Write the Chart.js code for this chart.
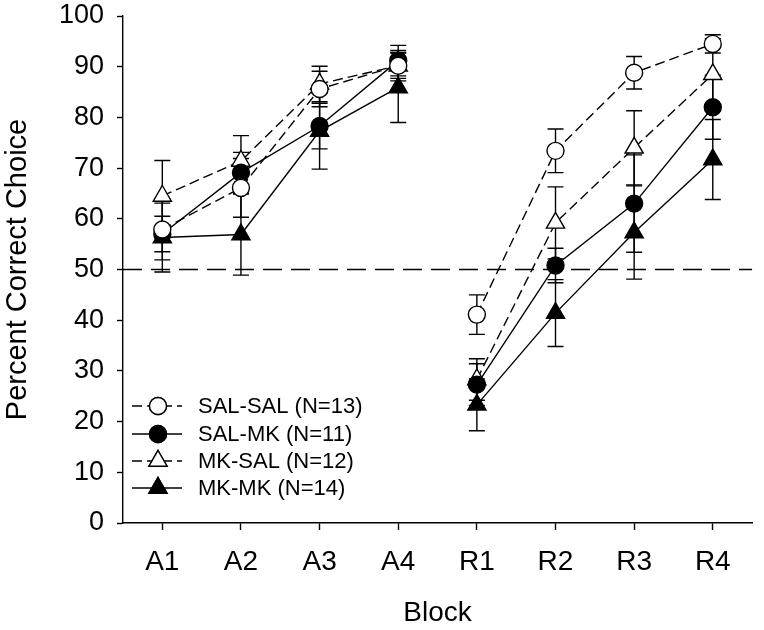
<!DOCTYPE html>
<html>
<head>
<meta charset="utf-8">
<script src="https://cdn.jsdelivr.net/npm/chart.js@4.4.1/dist/chart.umd.min.js"></script>
<style>
  html, body { margin: 0; padding: 0; background: #fff; }
  #wrap { width: 764px; height: 630px; }
</style>
</head>
<body>
<div id="wrap"><canvas id="c" width="764" height="630"></canvas></div>
<script>
const blocks = ['A1', 'A2', 'A3', 'A4', 'R1', 'R2', 'R3', 'R4'];
const yTicks = [0, 10, 20, 30, 40, 50, 60, 70, 80, 90, 100];
const chanceLevel = 50;

const salSal    = [57.9, 66.1, 85.6, 90.2, 41.1, 73.4, 88.8, 94.5];
const salSalErr = [6.0, 5.8, 3.5, 3.0, 3.9, 4.3, 3.2, 1.8];
const salMk     = [57.0, 69.1, 78.3, 91.2, 27.3, 50.8, 63.0, 82.0];
const salMkErr  = [3.5, 4.0, 4.5, 3.0, 4.1, 3.4, 9.6, 6.3];
const mkSal     = [64.5, 71.4, 86.6, 90.2, 28.3, 59.2, 74.0, 88.5];
const mkSalErr  = [7.0, 5.0, 3.5, 2.5, 4.1, 7.1, 7.3, 7.0];
const mkMk      = [56.3, 56.9, 77.3, 85.9, 23.3, 41.4, 57.3, 71.7];
const mkMkErr   = [6.8, 8.0, 7.5, 6.9, 5.1, 6.6, 9.2, 7.9];

const seriesLabels = ['SAL-SAL (N=13)', 'SAL-MK (N=11)', 'MK-SAL (N=12)', 'MK-MK (N=14)'];

const FONT = '"Liberation Sans", Arial, Helvetica, sans-serif';
const LW = 1.4;
const DASH = [10, 5];

// no connecting line between the acquisition block (A4) and reversal block (R1)
const gapSegment = (color) => ({
  borderColor: ctx => ctx.p0.parsed.x === 3 ? 'rgba(0,0,0,0)' : color
});

function makeSet(label, data, err, dashed, filled, style, radius) {
  return {
    label: label,
    data: data,
    errors: err,
    borderColor: '#000',
    borderWidth: LW,
    borderDash: dashed ? DASH : [],
    pointStyle: style,
    pointRadius: radius,
    pointHoverRadius: radius,
    pointBorderWidth: LW,
    pointBorderColor: '#000',
    pointBackgroundColor: filled ? '#000' : '#fff',
    backgroundColor: filled ? '#000' : '#fff',
    fill: false,
    tension: 0,
    segment: gapSegment('#000')
  };
}

const errorBarPlugin = {
  id: 'errorBars',
  beforeDatasetsDraw(chart) {
    const ctx = chart.ctx;
    const xs = chart.scales.x, ys = chart.scales.y;
    ctx.save();
    // chance line at 50%
    const y50 = ys.getPixelForValue(chanceLevel);
    ctx.strokeStyle = '#000';
    ctx.lineWidth = LW;
    ctx.setLineDash([19, 9]);
    ctx.beginPath();
    ctx.moveTo(chart.chartArea.left, y50);
    ctx.lineTo(chart.chartArea.right, y50);
    ctx.stroke();
    ctx.setLineDash([]);
    chart.data.datasets.forEach(ds => {
      ds.data.forEach((v, i) => {
        const e = ds.errors[i];
        const x = xs.getPixelForValue(i);
        const yt = ys.getPixelForValue(v + e);
        const yb = ys.getPixelForValue(v - e);
        ctx.beginPath();
        ctx.moveTo(x, yt); ctx.lineTo(x, yb);
        ctx.moveTo(x - 8, yt); ctx.lineTo(x + 8, yt);
        ctx.moveTo(x - 8, yb); ctx.lineTo(x + 8, yb);
        ctx.stroke();
      });
    });
    ctx.restore();
  }
};

const legendPlugin = {
  id: 'lineLegend',
  afterDatasetsDraw(chart) {
    const ctx = chart.ctx;
    const x0 = 132, x1 = 182, xm = 158, xt = 198;
    const rows = [406, 434, 461, 488];
    ctx.save();
    chart.data.datasets.forEach((ds, k) => {
      const y = rows[k];
      ctx.strokeStyle = '#000';
      ctx.lineWidth = LW;
      ctx.setLineDash(ds.borderDash);
      ctx.beginPath();
      ctx.moveTo(x0, y); ctx.lineTo(x1, y);
      ctx.stroke();
      ctx.setLineDash([]);
      ctx.fillStyle = ds.pointBackgroundColor;
      Chart.helpers.drawPoint(ctx, {
        pointStyle: ds.pointStyle,
        radius: ds.pointRadius,
        borderWidth: LW,
        rotation: 0
      }, xm, y);
      ctx.fill();
      ctx.stroke();
      ctx.fillStyle = '#000';
      ctx.font = '22px ' + FONT;
      ctx.textBaseline = 'middle';
      ctx.textAlign = 'left';
      ctx.fillText(ds.label, xt, y + 1);
    });
    ctx.restore();
  }
};

new Chart(document.getElementById('c'), {
  type: 'line',
  data: {
    labels: blocks,
    datasets: [
      makeSet(seriesLabels[0], salSal, salSalErr, true, false, 'circle', 8.5),
      makeSet(seriesLabels[1], salMk, salMkErr, false, true, 'circle', 8.5),
      makeSet(seriesLabels[2], mkSal, mkSalErr, true, false, 'triangle', 10.5),
      makeSet(seriesLabels[3], mkMk, mkMkErr, false, true, 'triangle', 10.5)
    ]
  },
  options: {
    responsive: false,
    animation: false,
    events: [],
    layout: { padding: { left: 0, right: 11, top: 16, bottom: 0 } },
    plugins: { legend: { display: false }, tooltip: { enabled: false } },
    scales: {
      x: {
        type: 'category',
        offset: true,
        afterFit(s) { s.height = 107; s.paddingLeft = 0; s.paddingRight = 0; },
        grid: { display: true, drawOnChartArea: false, tickLength: 7, tickColor: '#000', tickWidth: LW, offset: false },
        border: { display: true, color: '#000', width: LW },
        ticks: { color: '#000', font: { family: FONT, size: 28 }, padding: 15, maxRotation: 0 },
        title: { display: true, text: 'Block', color: '#000', font: { family: FONT, size: 28 }, padding: { top: 0, bottom: 0 } }
      },
      y: {
        min: 0, max: 100,
        afterFit(s) { s.width = 123; s.paddingTop = 0; s.paddingBottom = 0; },
        afterBuildTicks(s) { s.ticks = yTicks.map(v => ({ value: v })); },
        grid: { display: true, drawOnChartArea: false, tickLength: 6, tickColor: '#000', tickWidth: LW },
        border: { display: true, color: '#000', width: LW },
        ticks: { color: '#000', font: { family: FONT, size: 27 }, padding: 13 },
        title: { display: true, text: 'Percent Correct Choice', color: '#000', font: { family: FONT, size: 29 }, padding: { top: 1, bottom: 0 } }
      }
    }
  },
  plugins: [errorBarPlugin, legendPlugin]
});
</script>
</body>
</html>
